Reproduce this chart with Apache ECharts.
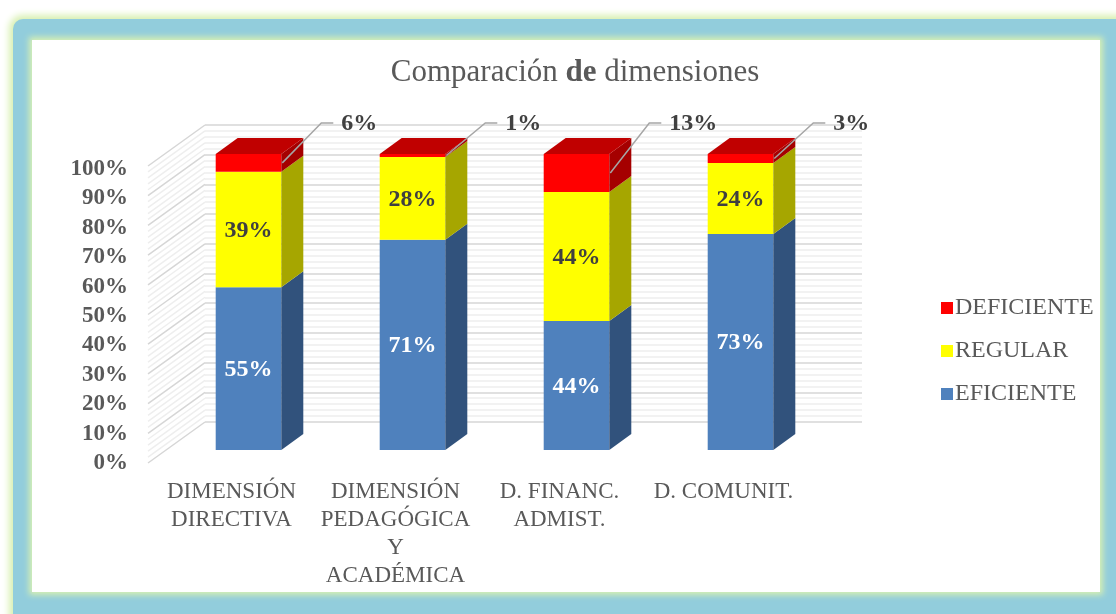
<!DOCTYPE html>
<html>
<head>
<meta charset="utf-8">
<script src="https://cdn.jsdelivr.net/npm/echarts@6/dist/echarts.min.js"></script>
<style>
  html, body { margin: 0; padding: 0; background: #ffffff; width: 1116px; height: 614px; overflow: hidden; }
  #outer { position: absolute; left: 13px; top: 19px; width: 1130px; height: 640px; background: #92CDDC; border-radius: 10px; box-shadow: 0 0 7px 4px #D8F0B2; }
  #inner { position: absolute; left: 32px; top: 40px; width: 1068px; height: 552px; background: #ffffff; box-shadow: 0 0 6px 3px #D8F0B2; }
  #chart { position: absolute; left: 0; top: 0; width: 1116px; height: 614px; }
</style>
</head>
<body>
<div id="outer"></div>
<div id="inner"></div>
<div id="chart"></div>
<script>
// ---- data ----
const categories = ['DIMENSIÓN\nDIRECTIVA', 'DIMENSIÓN\nPEDAGÓGICA\nY\nACADÉMICA', 'D. FINANC.\nADMIST.', 'D. COMUNIT.'];
const eficiente  = [55, 71, 44, 73];
const regular    = [39, 28, 44, 24];
const deficiente = [6, 1, 13, 3];
const seriesNames = ['EFICIENTE', 'REGULAR', 'DEFICIENTE'];

// ---- styles ----
const FONT = '"Liberation Serif", "Times New Roman", serif';
const styles = [
  { front: '#4F81BD', side: '#31527C', top: '#3D6496', label: '#FFFFFF' },
  { front: '#FFFF00', side: '#A6A600', top: '#C8C800', label: '#404040' },
  { front: '#FF0000', side: '#A50000', top: '#C00000', label: '#404040' }
];
const DX = 22, DY = -16;           // bar depth
const WX = 57, WY = 41;            // wall depth

const valueSets = [eficiente, regular, deficiente];
const totals = categories.map((c, i) => valueSets.reduce((s, v) => s + v[i], 0));

function stackData(k) {
  return categories.map((c, i) => {
    let before = 0;
    for (let j = 0; j < k; j++) before += valueSets[j][i];
    const after = before + valueSets[k][i];
    return [i, before / totals[i] * 100, after / totals[i] * 100, valueSets[k][i]];
  });
}

function makeBarRender(k) {
  const st = styles[k];
  const isTop = k === valueSets.length - 1;
  return function (params, api) {
    const i = api.value(0), s = api.value(1), e = api.value(2), raw = api.value(3);
    const p0 = api.coord([i, s]);
    const p1 = api.coord([i, e]);
    const w = api.size([1, 0])[0] * 0.4;
    const xl = p0[0] - w / 2, xr = p0[0] + w / 2;
    const yb = p0[1], yt = p1[1];
    const children = [
      { type: 'rect', shape: { x: xl, y: yt, width: w, height: yb - yt }, style: { fill: st.front } },
      { type: 'polygon', shape: { points: [[xr, yb], [xr + DX, yb + DY], [xr + DX, yt + DY], [xr, yt]] }, style: { fill: st.side } }
    ];
    if (isTop) {
      children.push({ type: 'polygon', shape: { points: [[xl, yt], [xl + DX, yt + DY], [xr + DX, yt + DY], [xr, yt]] }, style: { fill: st.top } });
    }
    if (!isTop) {
      children.push({ type: 'text', style: { text: raw + '%', x: (xl + xr) / 2, y: (yb + yt) / 2 + 1, align: 'center', verticalAlign: 'middle',
        fill: st.label, font: 'bold 24px ' + FONT } });
    } else {
      const ly = api.coord([i, 100])[1] - 31;
      const my = (yb + yt) / 2;
      children.push({ type: 'polyline', shape: { points: [[xr + 1, my], [xr + 40, ly], [xr + 52, ly]] },
        style: { stroke: '#A6A6A6', lineWidth: 1.5, fill: null } });
      children.push({ type: 'text', style: { text: raw + '%', x: xr + 60, y: ly + 1, align: 'left', verticalAlign: 'middle',
        fill: st.label, font: 'bold 24px ' + FONT } });
    }
    return { type: 'group', children: children };
  };
}

function wallRender(params, api) {
  const children = [];
  for (let v = 0; v <= 100; v += 2) {
    const p = api.coord([0, v]);
    const major = v % 10 === 0;
    children.push({ type: 'line', shape: { x1: p[0], y1: p[1], x2: p[0] - WX, y2: p[1] + WY },
      style: { stroke: major ? '#D6D6D6' : '#EEEEEE', lineWidth: 1.5 } });
  }
  return { type: 'group', children: children };
}

const chart = echarts.init(document.getElementById('chart'), null, { renderer: 'canvas' });

const series = [{
  type: 'custom', name: 'wall', coordinateSystem: 'cartesian2d', xAxisIndex: 0, yAxisIndex: 0,
  data: [[0, 0]], renderItem: wallRender, silent: true, z: 1
}];
valueSets.forEach((vals, k) => {
  series.push({
    type: 'custom', name: seriesNames[k], coordinateSystem: 'cartesian2d', xAxisIndex: 1, yAxisIndex: 1,
    data: stackData(k), encode: { x: 0, y: [1, 2] }, renderItem: makeBarRender(k),
    itemStyle: { color: styles[k].front }, z: 3
  });
});

chart.setOption({
  animation: false,
  title: {
    text: '{a|Comparación }{b|de}{a| dimensiones}',
    left: 570, top: 52, textAlign: 'center',
    textStyle: { fontWeight: 'normal', rich: {
      a: { fontFamily: FONT, fontSize: 31, color: '#595959', fontWeight: 'normal' },
      b: { fontFamily: FONT, fontSize: 31, color: '#595959', fontWeight: 'bold' }
    } }
  },
  legend: {
    orient: 'vertical', left: 936, top: 291, itemWidth: 12, itemHeight: 12, itemGap: 19, icon: 'rect',
    data: ['DEFICIENTE', 'REGULAR', 'EFICIENTE'],
    textStyle: { fontFamily: FONT, fontSize: 24, color: '#595959', lineHeight: 24, padding: [0, 0, 0, -3] }
  },
  grid: [
    { left: 205, right: 254, top: 125, bottom: 192 },
    { left: 166.5, right: 293.5, top: 154, bottom: 164 },
    { left: 148, right: 900, top: 169, bottom: 151 }
  ],
  xAxis: [
    { type: 'value', gridIndex: 0, min: 0, max: 1, show: false },
    { type: 'category', gridIndex: 1, data: categories,
      axisLine: { show: false }, axisTick: { show: false },
      axisLabel: { interval: 0, fontFamily: FONT, fontSize: 23, color: '#595959', lineHeight: 28, margin: 28, padding: [0, 34, 0, 0] } },
    { type: 'value', gridIndex: 2, min: 0, max: 1, show: false }
  ],
  yAxis: [
    { type: 'value', gridIndex: 0, min: 0, max: 100, interval: 10,
      axisLine: { show: false }, axisTick: { show: false }, axisLabel: { show: false },
      splitLine: { show: true, lineStyle: { color: '#D6D6D6', width: 1.5 } },
      minorTick: { show: false, splitNumber: 5 },
      minorSplitLine: { show: true, lineStyle: { color: '#EEEEEE', width: 1.5 } } },
    { type: 'value', gridIndex: 1, min: 0, max: 100, show: false },
    { type: 'value', gridIndex: 2, min: 0, max: 100, interval: 10,
      axisLine: { show: false }, axisTick: { show: false }, splitLine: { show: false },
      axisLabel: { formatter: '{value}%', fontFamily: FONT, fontSize: 23, fontWeight: 'bold', color: '#595959', margin: 20 } }
  ],
  series: series
});
</script>
</body>
</html>
